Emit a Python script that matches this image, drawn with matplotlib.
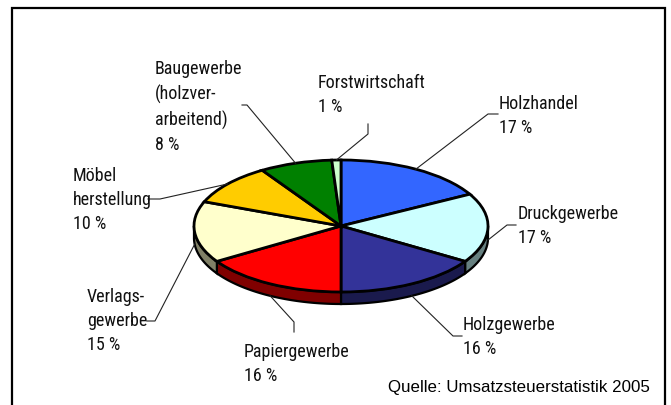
import numpy as np
import matplotlib.pyplot as plt
from matplotlib import font_manager as fm
from matplotlib.colors import to_rgb
from matplotlib.patches import Polygon

categories = ["Holzhandel", "Druckgewerbe", "Holzgewerbe", "Papiergewerbe",
              "Verlags-\ngewerbe", "Möbel\nherstellung",
              "Baugewerbe\n(holzver-\narbeitend)", "Forstwirtschaft"]
shares = [17, 17, 16, 16, 15, 10, 8, 1]
colors = ["#3366ff", "#ccffff", "#333399", "#ff0000",
          "#ffffcc", "#ffcc00", "#008000", "#ccffcc"]
source = "Quelle: Umsatzsteuerstatistik 2005"

# layout, in pixels of the 671x406 picture
CX, CY = 341, 227      # pie centre
RX, RY = 147, 66       # ellipse radii
DEPTH = 12             # thickness of the pie
LINE_GAP = 26          # px between label lines

label_xy = [(499, 116), (518, 226), (463, 337), (244, 364),
            (87, 321), (73, 200), (155, 107), (318, 95)]
elbow_xy = [(488, 115), (507, 226), (453, 337), (294, 323),
            (155, 322), (160, 200), (247, 106), (368, 135)]
end_xy = [(498, 115), (516, 226), (462, 337), (294, 333),
          (147, 322), (148, 200), (242, 106), (368, 125)]


def px(x, y):
    return (x - CX) / RX, (CY - y) / RY


def narrow_font():
    # the labels use a narrow Arial-like face; take one if installed
    fonts = fm.fontManager.ttflist
    for name in ["Liberation Sans Narrow", "Arial Narrow", "Roboto Condensed",
                 "DejaVu Sans Condensed", "Noto Sans Condensed"]:
        for f in fonts:
            if f.name == name and f.weight == 400 and f.style == "normal":
                return fm.FontProperties(fname=f.fname)
    for stretch in ["semi-condensed", "condensed", "extra-condensed"]:
        for f in fonts:
            if (f.stretch == stretch and f.weight == 400 and f.style == "normal"
                    and "Mono" not in f.name and "Serif" not in f.name):
                return fm.FontProperties(fname=f.fname)
    return fm.FontProperties(family="Liberation Sans")


fig = plt.figure(figsize=(6.71, 4.06), dpi=100)
ax = fig.add_axes([0, 0, 1, 1])
renderer = fig.canvas.get_renderer()

# pick a label size so "Papiergewerbe" is about 106 px wide
label_font = narrow_font()
label_font.set_size(13.4)
probe = fig.text(0, 0, "Papiergewerbe", fontproperties=label_font)
w = probe.get_window_extent(renderer=renderer).width
label_font.set_size(min(14.5, 13.4 * 106 / w))
probe.set_fontproperties(label_font)
probe.set_text("lp")
lp_h = probe.get_window_extent(renderer=renderer).height
probe.remove()
spacing = LINE_GAP / lp_h

bounds = 90 - 360 * np.concatenate([[0], np.cumsum(shares)]) / sum(shares)
d = DEPTH / RY

# side of the pie (front half only)
for i, c in enumerate(colors):
    lo = max(bounds[i + 1], -180)
    hi = min(bounds[i], 0)
    if lo >= hi:
        continue
    t = np.radians(np.linspace(lo, hi, 80))
    top = np.column_stack([np.cos(t), np.sin(t)])
    bottom = np.column_stack([np.cos(t), np.sin(t) - d])[::-1]
    dark = tuple(0.5 * v for v in to_rgb(c))
    ax.add_patch(Polygon(np.vstack([top, bottom]), closed=True,
                         facecolor=dark, edgecolor="black", linewidth=1.6))

ax.pie(shares, colors=colors, startangle=90, counterclock=False, radius=1,
       wedgeprops=dict(edgecolor="black", linewidth=2))

# labels with leader lines
for i, name in enumerate(categories):
    m = np.radians((bounds[i] + bounds[i + 1]) / 2)
    x0, y0 = np.cos(m), np.sin(m)
    if y0 < 0:
        y0 -= d
    x1, y1 = px(*elbow_xy[i])
    x2, y2 = px(*end_xy[i])
    ax.plot([x0, x1, x2], [y0, y1, y2], color="#222222", linewidth=0.8)
    tx, ty = px(*label_xy[i])
    ax.text(tx, ty, f"{name}\n{shares[i]} %", ha="left", va="center",
            fontproperties=label_font, linespacing=spacing, color="#111111")

ax.text(*px(388, 388), source, ha="left", va="center", fontsize=12.2,
        family=["Liberation Sans", "DejaVu Sans"])

# frame
fx, fy = zip(*[px(12, 430), px(12, 9), px(665, 9), px(665, 430)])
ax.plot(fx, fy, color="black", linewidth=1.6, solid_joinstyle="miter")

ax.set_aspect("auto")
ax.set_xlim(px(0, 0)[0], px(671, 0)[0])
ax.set_ylim(px(0, 406)[1], px(0, 0)[1])
ax.axis("off")

fig.savefig("out.png", dpi=100)
